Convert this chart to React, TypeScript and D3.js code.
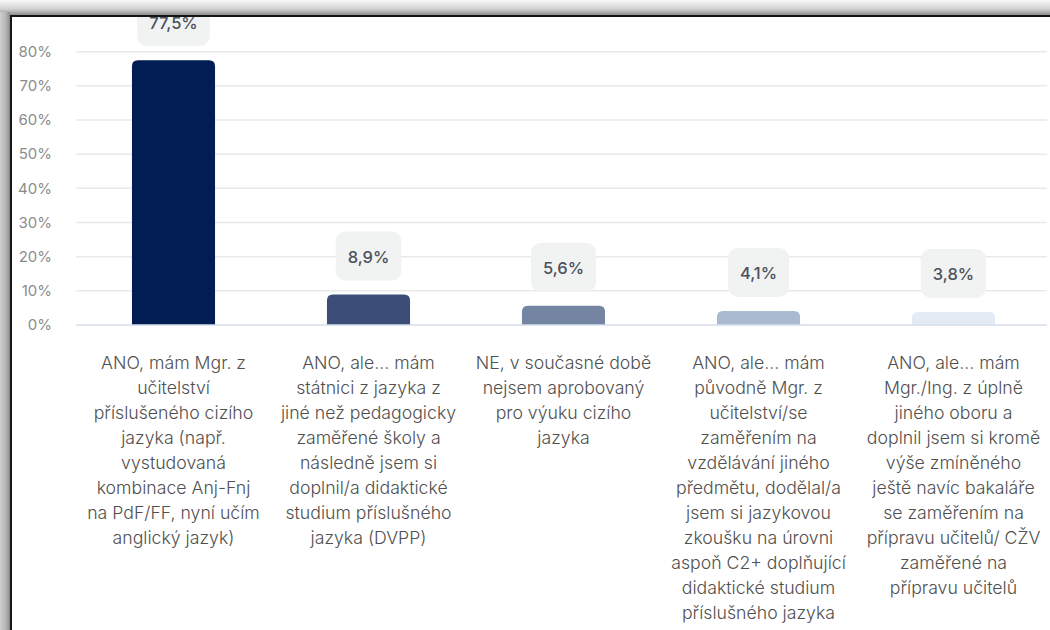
import React, { useEffect, useRef } from 'react';
import * as d3 from 'd3';

const categories = [
  'ANO, mám Mgr. z učitelství příslušeného cizího jazyka (např. vystudovaná kombinace Anj-Fnj na PdF/FF, nyní učím anglický jazyk)',
  'ANO, ale… mám státnici z jazyka z jiné než pedagogicky zaměřené školy a následně jsem si doplnil/a didaktické studium příslušného jazyka (DVPP)',
  'NE, v současné době nejsem aprobovaný pro výuku cizího jazyka',
  'ANO, ale… mám původně Mgr. z učitelství/se zaměřením na vzdělávání jiného předmětu, dodělal/a jsem si jazykovou zkoušku na úrovni aspoň C2+ doplňující didaktické studium příslušného jazyka',
  'ANO, ale… mám Mgr./Ing. z úplně jiného oboru a doplnil jsem si kromě výše zmíněného ještě navíc bakaláře se zaměřením na přípravu učitelů/ CŽV zaměřené na přípravu učitelů',
];

const labelLines = [
  ['ANO, mám Mgr. z', 'učitelství', 'příslušeného cizího', 'jazyka (např.', 'vystudovaná', 'kombinace Anj-Fnj', 'na PdF/FF, nyní učím', 'anglický jazyk)'],
  ['ANO, ale… mám', 'státnici z jazyka z', 'jiné než pedagogicky', 'zaměřené školy a', 'následně jsem si', 'doplnil/a didaktické', 'studium příslušného', 'jazyka (DVPP)'],
  ['NE, v současné době', 'nejsem aprobovaný', 'pro výuku cizího', 'jazyka'],
  ['ANO, ale… mám', 'původně Mgr. z', 'učitelství/se', 'zaměřením na', 'vzdělávání jiného', 'předmětu, dodělal/a', 'jsem si jazykovou', 'zkoušku na úrovni', 'aspoň C2+ doplňující', 'didaktické studium', 'příslušného jazyka'],
  ['ANO, ale… mám', 'Mgr./Ing. z úplně', 'jiného oboru a', 'doplnil jsem si kromě', 'výše zmíněného', 'ještě navíc bakaláře', 'se zaměřením na', 'přípravu učitelů/ CŽV', 'zaměřené na', 'přípravu učitelů'],
];

const values = [77.5, 8.9, 5.6, 4.1, 3.8];
const valueLabels = ['77,5%', '8,9%', '5,6%', '4,1%', '3,8%'];
const barColors = ['#021d53', '#3c4e77', '#7485a3', '#aabad0', '#e3ebf4'];
const yTicks = [0, 10, 20, 30, 40, 50, 60, 70, 80];

const W = 1050;
const H = 630;
const FONT = 'Inter, "Noto Sans", sans-serif';

export default function App() {
  const ref = useRef<SVGSVGElement | null>(null);

  useEffect(() => {
    const svg = d3.select(ref.current);
    svg.selectAll('*').remove();

    const x = d3.scaleBand<string>().domain(categories).range([76, 1051]).paddingInner(0.574).paddingOuter(0.287);
    const y = d3.scaleLinear().domain([0, 80]).range([325, 51.7]);

    svg.append('rect').attr('width', W).attr('height', H).attr('fill', '#ffffff');

    const g = svg.append('g');

    g.selectAll('line.grid')
      .data(yTicks.filter((t) => t > 0))
      .join('line')
      .attr('x1', 76)
      .attr('x2', 1047)
      .attr('y1', (d) => y(d))
      .attr('y2', (d) => y(d))
      .attr('stroke', '#e9e9e9')
      .attr('stroke-width', 1.5);

    g.selectAll('text.tick')
      .data(yTicks)
      .join('text')
      .attr('x', 52)
      .attr('y', (d) => y(d))
      .attr('dy', '0.35em')
      .attr('text-anchor', 'end')
      .attr('font-family', FONT)
      .attr('font-size', 15)
      .attr('fill', '#8c8c8c')
      .text((d) => `${d}%`);

    const r = 6;
    const bw = x.bandwidth();
    g.selectAll('path.bar')
      .data(values)
      .join('path')
      .attr('fill', (_, i) => barColors[i])
      .attr('d', (d, i) => {
        const x0 = x(categories[i]) as number;
        const y0 = y(d);
        const yb = y(0);
        const p = d3.path();
        p.moveTo(x0, yb);
        p.lineTo(x0, y0 + r);
        p.quadraticCurveTo(x0, y0, x0 + r, y0);
        p.lineTo(x0 + bw - r, y0);
        p.quadraticCurveTo(x0 + bw, y0, x0 + bw, y0 + r);
        p.lineTo(x0 + bw, yb);
        p.closePath();
        return p.toString();
      });

    g.append('line')
      .attr('x1', 76)
      .attr('x2', 1047)
      .attr('y1', y(0))
      .attr('y2', y(0))
      .attr('stroke', '#d6deea')
      .attr('stroke-width', 1.5);

    values.forEach((v, i) => {
      const cx = (x(categories[i]) as number) + bw / 2;
      const boxBottom = y(v) - 14;
      const boxH = 49;
      const lg = g.append('g');
      const rect = lg.append('rect').attr('fill', '#f1f2f2').attr('rx', 10).attr('ry', 10);
      const t = lg
        .append('text')
        .attr('x', cx)
        .attr('y', boxBottom - boxH / 2 + 1)
        .attr('dy', '0.35em')
        .attr('text-anchor', 'middle')
        .attr('font-family', FONT)
        .attr('font-size', 16.5)
        .attr('font-weight', 500)
        .attr('fill', '#4b505c')
        .text(valueLabels[i]);
      const tw = (t.node() as SVGTextElement).getComputedTextLength();
      const bwid = tw + 24;
      rect
        .attr('x', cx - bwid / 2)
        .attr('y', boxBottom - boxH)
        .attr('width', bwid)
        .attr('height', boxH);
    });

    labelLines.forEach((lines, i) => {
      const cx = (x(categories[i]) as number) + bw / 2;
      const t = g
        .append('text')
        .attr('text-anchor', 'middle')
        .attr('font-family', FONT)
        .attr('font-size', 17.7)
        .attr('font-weight', 300)
        .attr('fill', '#505050');
      lines.forEach((ln, j) => {
        t.append('tspan').attr('x', cx).attr('y', 369 + j * 25).text(ln);
      });
    });

    const defs = svg.append('defs');
    const gt = defs.append('linearGradient').attr('id', 'topShadow').attr('x1', 0).attr('y1', 0).attr('x2', 0).attr('y2', 1);
    gt.append('stop').attr('offset', '0%').attr('stop-color', '#f8f8f8');
    gt.append('stop').attr('offset', '60%').attr('stop-color', '#d2d2d2');
    gt.append('stop').attr('offset', '100%').attr('stop-color', '#8e8e8e');
    const gl = defs.append('linearGradient').attr('id', 'leftShadow').attr('x1', 0).attr('y1', 0).attr('x2', 1).attr('y2', 0);
    gl.append('stop').attr('offset', '0%').attr('stop-color', '#cfcfcf');
    gl.append('stop').attr('offset', '60%').attr('stop-color', '#b4b4b4');
    gl.append('stop').attr('offset', '100%').attr('stop-color', '#8a8a8a');

    svg.append('rect').attr('x', 0).attr('y', 0).attr('width', W).attr('height', 15).attr('fill', 'url(#topShadow)');
    svg.append('rect').attr('x', 0).attr('y', 12).attr('width', 10).attr('height', H - 12).attr('fill', 'url(#leftShadow)');
    svg.append('rect').attr('x', 10).attr('y', 15).attr('width', W - 10).attr('height', 2).attr('fill', '#151515');
    svg.append('rect').attr('x', 10).attr('y', 15).attr('width', 2).attr('height', H - 15).attr('fill', '#151515');
  }, []);

  return (
    <svg
      ref={ref}
      width={W}
      height={H}
      style={{ position: 'fixed', left: 0, top: 0, display: 'block' }}
    />
  );
}
